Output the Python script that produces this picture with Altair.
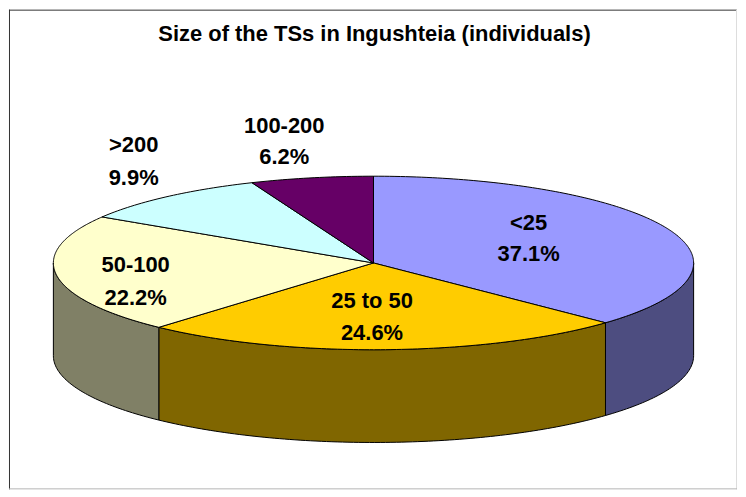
import math
import altair as alt
import pandas as pd

# ---- chart values ----
categories = ["<25", "25 to 50", "50-100", ">200", "100-200"]
shares = [37.1, 24.6, 22.2, 9.9, 6.2]
top_colors = ["#9999FF", "#FFCC00", "#FFFFCC", "#CCFFFF", "#660066"]
side_colors = ["#4D4D80", "#806600", "#808066", "#668080", "#330033"]
title_text = "Size of the TSs in Ingushteia (individuals)"
label_x = [529, 372, 135, 133, 284]
label_y_top = [222, 300, 264, 144, 125]
label_y_bottom = [253, 332, 297, 177, 156]

# ---- geometry of the tilted disc ----
CX, CY, RX, RY, DEPTH = 373.5, 262.0, 321.0, 87.0, 93.0
OFF = 8  # page margin
W, H = 730, 481


def pt(theta):
    return CX + RX * math.sin(theta), CY - RY * math.cos(theta)


def wedge_rows(name, a0, a1):
    """Upper and lower outline of a convex wedge, per x."""
    n = max(8, int((a1 - a0) * 60))
    poly = [(CX, CY)] + [pt(a0 + (a1 - a0) * i / n) for i in range(n + 1)]
    xs = sorted({round(p[0], 3) for p in poly})
    rows = []
    m = len(poly)
    for x in xs:
        ys = []
        for i in range(m):
            (x1, y1), (x2, y2) = poly[i], poly[(i + 1) % m]
            lo, hi = min(x1, x2), max(x1, x2)
            if lo - 1e-3 <= x <= hi + 1e-3:
                if abs(x2 - x1) < 1e-6:
                    ys += [y1, y2]
                else:
                    t = min(1, max(0, (x - x1) / (x2 - x1)))
                    ys.append(y1 + t * (y2 - y1))
        rows.append({"series": name, "x": x, "y": min(ys), "y2": max(ys), "z": 1})
    return rows


def wall_rows(name, a0, a1):
    n = max(8, int(abs(a1 - a0) * 60))
    rows = []
    for i in range(n + 1):
        x, y = pt(a0 + (a1 - a0) * i / n)
        rows.append({"series": name, "x": x, "y": y, "y2": y + DEPTH, "z": 0})
    return rows


rows = []
domain = []
colours = []
cum = 0.0
total = sum(shares)
for cat, s, top, side in zip(categories, shares, top_colors, side_colors):
    a0 = 2 * math.pi * cum / total
    cum += s
    a1 = 2 * math.pi * cum / total
    # visible wall: the part of the rim that faces the viewer (90..270 degrees)
    lo, hi = max(a0, math.pi / 2), min(a1, 3 * math.pi / 2)
    if hi > lo:
        rows += wall_rows(cat + " side", lo, hi)
        domain.append(cat + " side")
        colours.append(side)
    rows += wedge_rows(cat + " top", a0, a1)
    domain.append(cat + " top")
    colours.append(top)

df = pd.DataFrame(rows)

xs = alt.Scale(domain=[OFF, OFF + W], range=[0, W], nice=False, zero=False)
ys = alt.Scale(domain=[OFF, OFF + H], range=[0, H], nice=False, zero=False)
X = alt.X("x:Q", scale=xs, axis=None)
Y = alt.Y("y:Q", scale=ys, axis=None)

layers = []
for name, colour in zip(domain, colours):
    layers.append(
        alt.Chart(df[df.series == name])
        .mark_area(color=colour, stroke="#000000", strokeWidth=1, line=False, clip=False)
        .encode(x=X, y=Y, y2="y2:Q")
    )

labels = pd.DataFrame(
    {
        "text": list(categories) + [f"{s}%" for s in shares],
        "x": label_x + label_x,
        "y": label_y_top + label_y_bottom,
    }
)
FONT = "Liberation Sans"
text = (
    alt.Chart(labels)
    .mark_text(font=FONT, fontSize=22, fontWeight="bold", color="#000000", align="center", baseline="middle")
    .encode(x=X, y=Y, text="text:N")
)
title = (
    alt.Chart(pd.DataFrame({"text": [title_text], "x": [374.5], "y": [32]}))
    .mark_text(font=FONT, fontSize=22, fontWeight="bold", color="#000000", align="center", baseline="middle")
    .encode(x=X, y=Y, text="text:N")
)

frame = pd.DataFrame(
    {
        "x": [8.5, 8.0, OFF + W - 0.5, 8.0],
        "x2": [8.5, OFF + W, OFF + W - 0.5, OFF + W],
        "y": [8.0, 8.5, 8.0, OFF + H - 0.5],
        "y2": [OFF + H, 8.5, OFF + H, OFF + H - 0.5],
        "c": ["#333333", "#333333", "#dddddd", "#b5b5b5"],
    }
)
border = (
    alt.Chart(frame)
    .mark_rule(strokeWidth=1)
    .encode(x=X, x2="x2:Q", y=Y, y2="y2:Q", color=alt.Color("c:N", scale=None))
)

chart = (
    alt.layer(*layers, text, title, border)
    .properties(width=W, height=H, padding=0, background="#ffffff")
    .configure_view(stroke=None)
)
chart.save("out.html", embed_options={"renderer": "svg", "actions": False})
